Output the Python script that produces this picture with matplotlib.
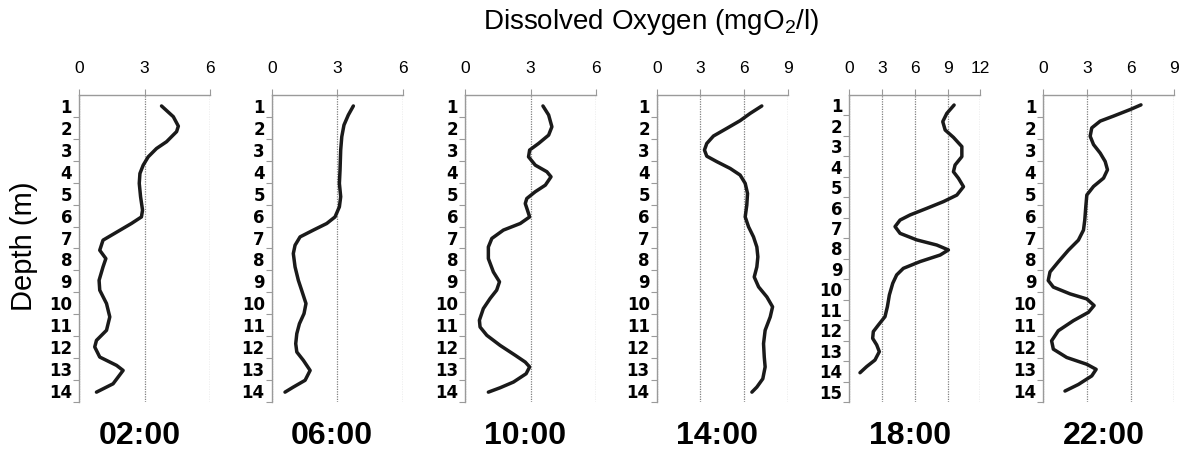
import numpy as np
import matplotlib.pyplot as plt

plt.rcParams['font.family'] = ['Liberation Sans', 'DejaVu Sans']
plt.rcParams['mathtext.fontset'] = 'custom'
plt.rcParams['mathtext.rm'] = 'Liberation Sans'

# sampling times, x-axis max and number of depth rows per profile
times = ['02:00', '06:00', '10:00', '14:00', '18:00', '22:00']
x_max = [6, 6, 6, 9, 12, 9]
n_depths = [14, 14, 14, 14, 15, 14]

# traced profiles: position on depth axis (label k sits at k-0.5) and DO (mgO2/l)
depth_0200 = [0.5, 0.99, 1.42, 1.67, 2.13, 2.44, 2.82, 3.2, 3.58, 4.03, 4.64, 5.25, 5.56,
              5.86, 6.62, 7.08, 7.46, 7.84, 8.45, 8.9, 9.51, 10.12, 10.73, 11.19, 11.49,
              11.95, 12.33, 12.56, 13.17, 13.55]
do_0200 = [3.78, 4.32, 4.55, 4.47, 4.01, 3.55, 3.17, 2.94, 2.79, 2.76, 2.82, 2.91, 2.86,
           2.4, 1.1, 0.95, 1.23, 1.1, 0.92, 0.95, 1.26, 1.41, 1.26, 0.8, 0.72,
           0.95, 1.72, 2.02, 1.56, 0.8]

depth_0600 = [0.5, 0.91, 1.37, 1.9, 2.51, 3.42, 4.03, 4.64, 5.1, 5.56, 5.86, 6.16, 6.47,
              6.85, 7.23, 7.84, 8.45, 8.9, 9.51, 9.97, 10.43, 10.88, 11.34, 11.72, 12.1,
              12.56, 13.01, 13.32, 13.55]
do_0600 = [3.74, 3.51, 3.31, 3.21, 3.16, 3.13, 3.1, 3.16, 3.1, 2.9, 2.52, 1.91, 1.3,
           1.07, 0.99, 1.07, 1.22, 1.37, 1.57, 1.48, 1.27, 1.15, 1.1, 1.15, 1.45,
           1.76, 1.53, 0.99, 0.61]

depth_1000 = [0.5, 0.91, 1.45, 1.83, 2.21, 2.51, 2.82, 3.2, 3.5, 3.73, 4.11, 4.41, 4.72,
              4.95, 5.25, 5.56, 5.86, 6.16, 6.54, 6.93, 7.46, 8.07, 8.52, 8.9, 9.28,
              9.74, 10.27, 10.58, 10.96, 11.42, 11.87, 12.18, 12.4, 12.71, 13.09, 13.35, 13.55]
do_1000 = [3.57, 3.83, 3.98, 3.83, 3.37, 2.96, 2.91, 3.22, 3.75, 3.94, 3.68, 3.22, 2.83,
           2.76, 2.86, 2.96, 2.53, 1.76, 1.23, 1.07, 1.07, 1.3, 1.58, 1.45, 1.15,
           0.84, 0.66, 0.69, 1.0, 1.61, 2.3, 2.76, 2.96, 2.8, 2.22, 1.61, 1.07]

depth_1400 = [0.5, 0.84, 1.17, 1.52, 1.87, 2.21, 2.51, 2.79, 3.04, 3.35, 3.65, 4.03, 4.49,
              5.02, 5.56, 6.01, 6.47, 6.93, 7.38, 7.84, 8.3, 8.75, 9.21, 9.66, 10.12,
              10.73, 11.34, 11.95, 12.4, 12.94, 13.32, 13.55]
do_1400 = [7.22, 6.42, 5.73, 4.82, 3.9, 3.44, 3.28, 3.44, 4.13, 5.05, 5.73, 6.08, 6.24,
           6.19, 6.08, 6.31, 6.65, 6.88, 6.95, 6.88, 6.7, 7.0, 7.57, 7.96, 7.8,
           7.45, 7.34, 7.39, 7.45, 7.29, 6.88, 6.54]

depth_1800 = [0.49, 0.9, 1.3, 1.71, 2.07, 2.52, 3.01, 3.42, 3.75, 4.07, 4.48, 4.89, 5.21,
              5.54, 5.86, 6.11, 6.43, 6.76, 7.08, 7.33, 7.57, 7.82, 8.14, 8.47, 8.79,
              9.2, 9.77, 10.34, 10.83, 11.24, 11.56, 11.89, 12.21, 12.54, 12.95, 13.27, 13.57]
do_1800 = [9.6, 8.93, 8.56, 8.78, 9.54, 10.31, 10.31, 9.69, 9.54, 10.0, 10.46, 9.85, 8.62,
           7.09, 5.57, 4.65, 4.19, 4.65, 6.18, 8.01, 9.08, 8.32, 6.48, 4.95, 4.34,
           3.98, 3.67, 3.49, 3.27, 2.66, 2.2, 2.14, 2.51, 2.75, 2.35, 1.59, 0.98]

depth_2200 = [0.45, 0.66, 0.96, 1.19, 1.5, 1.88, 2.26, 2.65, 3.03, 3.41, 3.79, 4.17, 4.56,
              5.09, 5.7, 6.16, 6.62, 7.08, 7.61, 8.07, 8.46, 8.76, 9.07, 9.3, 9.6,
              9.91, 10.29, 10.75, 11.21, 11.59, 11.97, 12.28, 12.51, 12.81, 13.2, 13.5]
do_2200 = [6.71, 5.98, 4.83, 3.91, 3.33, 3.22, 3.45, 3.91, 4.25, 4.41, 4.14, 3.45, 2.99,
           2.92, 2.85, 2.76, 2.41, 1.72, 1.03, 0.46, 0.34, 0.69, 1.84, 2.99, 3.49,
           3.1, 2.07, 1.03, 0.57, 0.69, 1.61, 2.99, 3.63, 3.33, 2.41, 1.49]

depths = [depth_0200, depth_0600, depth_1000, depth_1400, depth_1800, depth_2200]
values = [do_0200, do_0600, do_1000, do_1400, do_1800, do_2200]

W, H = 1183, 455
fig = plt.figure(figsize=(W / 100, H / 100), dpi=100)

left_px = [79, 271.7, 465, 656.7, 849.3, 1043.3]
panel_w, top_px, bot_px = 131, 95, 402
grey = '#9a9a9a'

for i in range(len(times)):
    ax = fig.add_axes([left_px[i] / W, 1 - bot_px / H, panel_w / W, (bot_px - top_px) / H])
    n = n_depths[i]
    ax.plot(values[i], depths[i], color='#1a1a1a', lw=2.5,
            solid_capstyle='round', solid_joinstyle='round', zorder=3)
    ax.set_xlim(0, x_max[i])
    ax.set_ylim(n, 0)

    ax.xaxis.tick_top()
    ax.set_xticks(np.arange(0, x_max[i] + 1, 3))
    ax.tick_params(axis='x', length=4, color=grey, pad=10, labelsize=12.5)
    ax.grid(axis='x', color='#808080', lw=0.9, ls=(0, (1, 1)))

    ax.set_yticks(np.arange(1, n + 1))
    ax.set_yticklabels([])
    ax.set_yticks(np.arange(0.5, n), minor=True)
    ax.set_yticklabels([str(k) for k in range(1, n + 1)], minor=True,
                       fontweight='bold', fontsize=12, family='DejaVu Sans')
    ax.tick_params(axis='y', which='major', length=4, color=grey)
    ax.tick_params(axis='y', which='minor', length=0, pad=5)

    for s in ['right', 'bottom']:
        ax.spines[s].set_visible(False)
    for s in ['top', 'left']:
        ax.spines[s].set_color(grey)
        ax.spines[s].set_linewidth(1.0)

    cx = left_px[i] + panel_w / 2 - 5
    fig.text(cx / W, 1 - 436 / H, times[i], ha='center', va='center',
             fontsize=23, fontweight='bold')

fig.text(651 / W, 1 - 22 / H, 'Dissolved Oxygen (mgO$_2$/l)', ha='center', va='center',
         fontsize=20)
fig.text(24 / W, 1 - 246 / H, 'Depth (m)', rotation=90, ha='center', va='center',
         fontsize=21)

fig.savefig('out.png', dpi=100)
